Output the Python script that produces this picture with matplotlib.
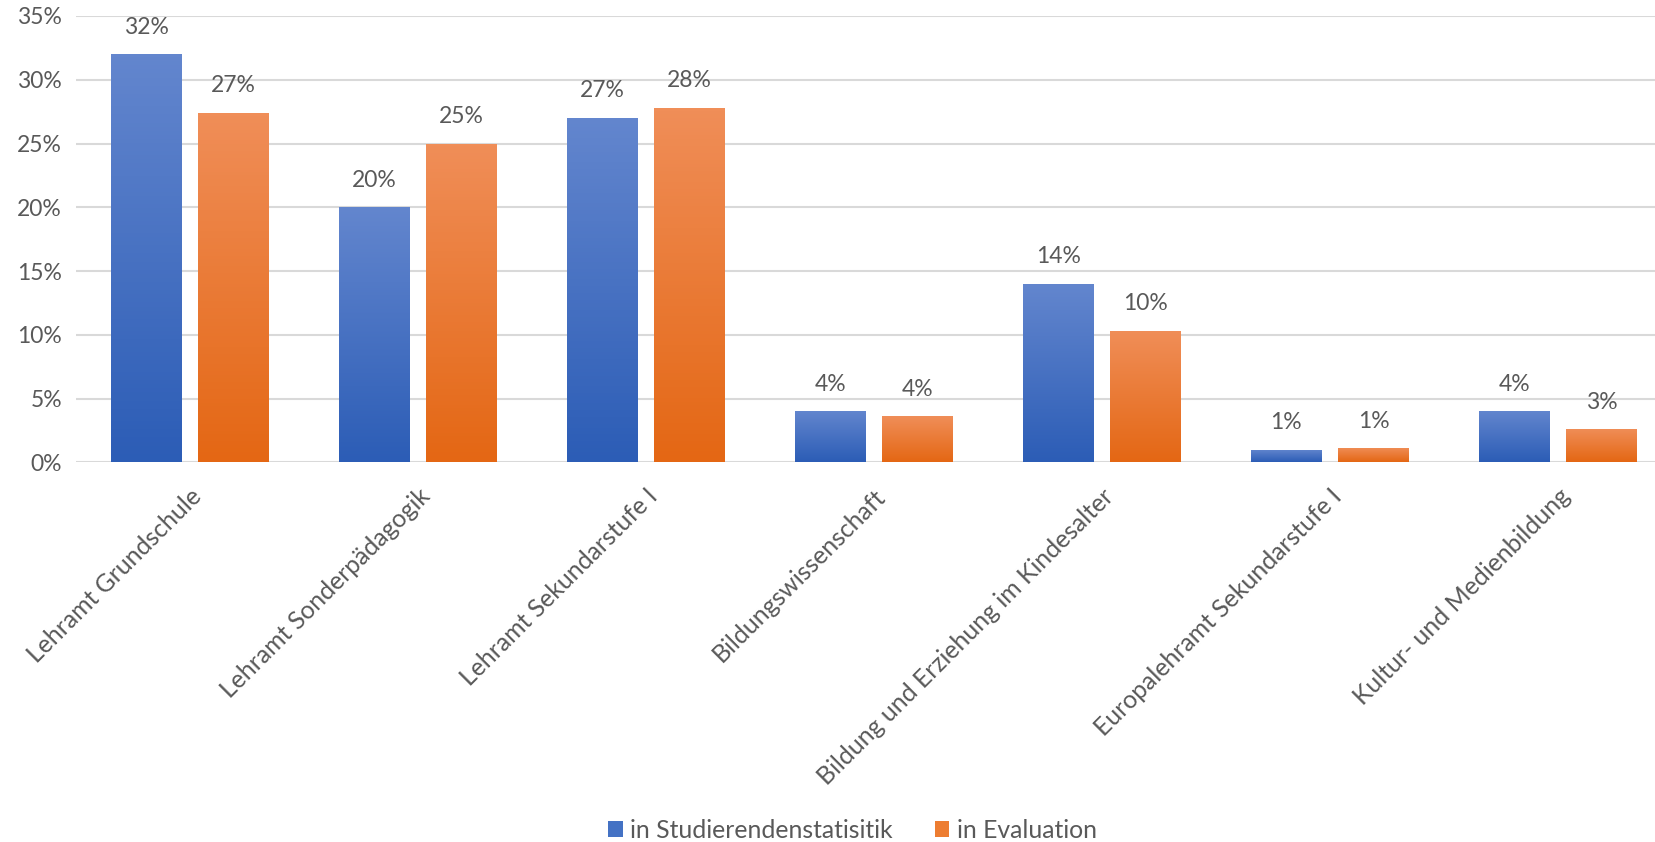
import matplotlib
matplotlib.use("Agg")
import matplotlib.pyplot as plt
import numpy as np
from matplotlib.colors import LinearSegmentedColormap
from matplotlib.patches import Patch

categories = ["Lehramt Grundschule", "Lehramt Sonderpädagogik", "Lehramt Sekundarstufe I",
              "Bildungswissenschaft", "Bildung und Erziehung im Kindesalter",
              "Europalehramt Sekundarstufe I", "Kultur- und Medienbildung"]
studierende = [32.0, 20.0, 27.0, 4.0, 14.0, 1.0, 4.0]
evaluation = [27.4, 25.0, 27.8, 3.6, 10.3, 1.1, 2.6]
series_names = ["in Studierendenstatisitik", "in Evaluation"]
yticks = [0, 5, 10, 15, 20, 25, 30, 35]

plt.rcParams['font.family'] = ['Lato', 'DejaVu Sans']
text_col = "#595959"
fs = 16.5
fs_big = 17.8

fig = plt.figure(figsize=(16.55, 8.42), dpi=100)
ax = fig.add_axes([0.0459, 0.451, 1 - 0.0459, 0.981 - 0.451])

x = np.arange(len(categories))
w = 0.31
off = 0.192
grads = [("#6386ce", "#2c5db6"), ("#f08e58", "#e46714")]
flat = ["#4472c4", "#ed7d31"]

for vals, sgn, (top, bot), fc in zip([studierende, evaluation], [-1, 1], grads, flat):
    bars = ax.bar(x + sgn * off, vals, width=w, color=fc, zorder=2)
    cmap = LinearSegmentedColormap.from_list("g", [bot, top])
    for b, v in zip(bars, vals):
        bx, by = b.get_x(), b.get_y()
        im = ax.imshow(np.linspace(0, 1, 100).reshape(-1, 1), cmap=cmap, origin="lower",
                       extent=[bx, bx + b.get_width(), by, by + b.get_height()],
                       aspect="auto", zorder=3)
        im.set_clip_path(b)
        ax.text(b.get_x() + b.get_width() / 2, v + 1.3, f"{v:.0f}%", ha="center", va="bottom",
                fontsize=fs, color=text_col)

ax.set_xlim(-0.5, 6.426)
ax.set_ylim(0, 35)
ax.set_yticks(yticks)
ax.set_yticklabels([f"{t}%" for t in yticks], fontsize=fs, color=text_col)
ax.set_xticks(x)
ax.set_xticklabels(categories, rotation=45, ha="right", rotation_mode="anchor",
                   fontsize=fs_big, color=text_col)
ax.tick_params(axis="both", length=0)
ax.tick_params(axis="y", pad=10)
ax.tick_params(axis="x", pad=16)
ax.yaxis.grid(True, color="#d9d9d9", linewidth=1.5, zorder=0)
ax.set_axisbelow(True)
for s in ax.spines.values():
    s.set_visible(False)

handles = [Patch(facecolor=c) for c in flat]
fig.legend(handles, series_names, loc="lower center", bbox_to_anchor=(0.515, -0.026), ncol=2,
           frameon=False, fontsize=fs_big, labelcolor=text_col, handlelength=0.6, handleheight=0.6,
           handletextpad=0.3, columnspacing=1.7)

fig.savefig("out.png", dpi=100)
